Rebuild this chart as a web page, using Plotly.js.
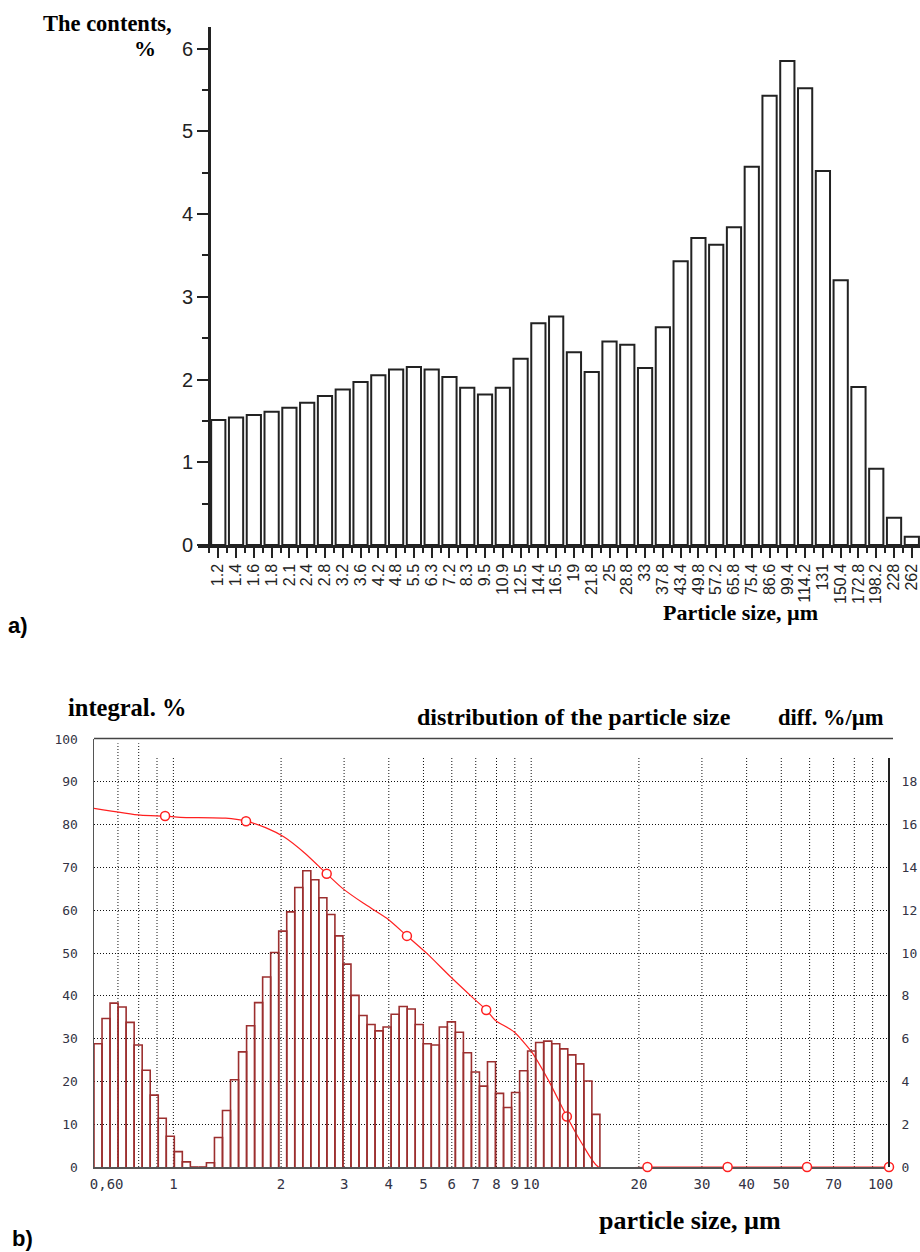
<!DOCTYPE html>
<html>
<head>
<meta charset="utf-8">
<script src="https://cdn.plot.ly/plotly-3.0.1.min.js"></script>
<style>
  html, body { margin: 0; padding: 0; background: #ffffff; }
  #chart { width: 920px; height: 1252px; }
</style>
</head>
<body>
<div id="chart"></div>
<script>
// ---------- (a) particle size histogram ----------
const sizeLabelsA = ['1.2','1.4','1.6','1.8','2.1','2.4','2.8','3.2','3.6','4.2','4.8','5.5','6.3','7.2','8.3','9.5','10.9','12.5','14.4','16.5','19','21.8','25','28.8','33','37.8','43.4','49.8','57.2','65.8','75.4','86.6','99.4','114.2','131','150.4','172.8','198.2','228','262'];
const contentA = [1.51,1.54,1.57,1.61,1.66,1.72,1.80,1.88,1.97,2.05,2.12,2.15,2.12,2.03,1.90,1.82,1.90,2.25,2.68,2.76,2.33,2.09,2.46,2.42,2.14,2.63,3.43,3.71,3.63,3.84,4.57,5.43,5.85,5.52,4.52,3.20,1.91,0.92,0.33,0.10];
const yTicksA = [0,1,2,3,4,5,6];

// ---------- (b) laser diffraction distribution ----------
// bin edges (µm), equal steps on the log scale
const binEdgesB = [0.6000,0.6318,0.6653,0.7006,0.7378,0.7769,0.8181,0.8615,0.9072,0.9553,
  1.0060,1.0593,1.1155,1.1747,1.2370,1.3026,1.3717,1.4444,1.5210,1.6017,
  1.6866,1.7761,1.8703,1.9695,2.0739,2.1839,2.2997,2.4217,2.5501,2.6853,
  2.8277,2.9777,3.1356,3.3019,3.4770,3.6614,3.8556,4.0601,4.2754,4.5021,
  4.7409,4.9923,5.2571,5.5359,5.8295,6.1386,6.4642,6.8070,7.1680,7.5481,
  7.9484,8.3700,8.8139,9.2813,9.7735,10.292,10.838,11.413,12.018,12.655,
  13.327,14.034,14.778,15.562];
// differential distribution, %/µm (right axis)
const diffB = [5.76,6.94,7.66,7.48,6.76,5.70,4.52,3.36,2.28,1.44,
  0.72,0.24,0,0,0.20,1.38,2.64,4.08,5.38,6.60,
  7.68,8.88,10.02,11.02,11.92,13.06,13.84,13.42,12.58,11.80,
  10.80,9.48,8.02,7.08,6.66,6.36,6.54,7.14,7.50,7.38,
  6.66,5.76,5.70,6.54,6.78,6.30,5.34,4.44,3.78,4.92,
  3.44,2.78,3.48,4.50,5.42,5.82,5.88,5.76,5.52,5.24,
  4.82,4.02,2.46];
// integral curve, % (left axis)
const integralX = [0.6,0.809,0.948,1.046,1.40,1.596,1.81,2.04,2.34,2.682,2.97,3.40,3.95,4.495,5.11,5.94,6.9,7.487,7.93,8.95,10.05,11.17,12.58,13.86,15.42,21.13,35.4,59.0,100];
const integralY = [83.8,82.2,82.0,81.7,81.5,80.8,79.3,77.1,73.2,68.5,65.1,61.6,58.1,54.0,49.9,44.5,39.4,36.7,34.3,31.6,26.8,20.3,11.8,5.5,0,0,0,0,0];
const markerX = [0.948,1.596,2.682,4.495,7.487,12.58,21.13,35.4,59.0,100];
const markerY = [82.0,80.8,68.5,54.0,36.7,11.8,0,0,0,0];
const xTickValsB = [0.6,1,2,3,4,5,6,7,8,9,10,20,30,40,50,70,100];
const xTickTextB = ['\u00a0\u00a0\u00a00,60','1','2','3','4','5','6','7','8','9','10','20','30','40','50','70','100\u00a0\u00a0'];
const gridXB = [0.7,0.8,0.9,1,2,3,4,5,6,7,8,9,10,20,30,40,50,60,70,80,90];
const leftTicksB = [0,10,20,30,40,50,60,70,80,90,100];
const rightTicksB = [0,2,4,6,8,10,12,14,16,18];

// ---------- geometry helpers ----------
const W = 920, H = 1252;
const px = v => v / W;
const py = v => 1 - v / H;

// build histogram outlines from edges + heights
const barX = [], barY = [];
diffB.forEach((h, i) => {
  barX.push(binEdgesB[i], binEdgesB[i], binEdgesB[i+1], binEdgesB[i+1], null);
  barY.push(0, h, h, 0, null);
});
// vertical dotted grid lines
const gX = [], gY = [];
gridXB.forEach(g => {
  gX.push(g, g, null);
  gY.push(0, (g < 0.85 ? 99 : 95.8), null);
});

const serif = 'Liberation Serif, Times New Roman, serif';
const sans = 'Liberation Sans, Arial, sans-serif';
const mono = 'DejaVu Sans Mono, monospace';
const dotted = '1px,2px';

const traces = [
  {
    type: 'bar', x: sizeLabelsA.map((_, i) => i), y: contentA,
    xaxis: 'x', yaxis: 'y', width: 0.8,
    marker: { color: '#ffffff', line: { color: '#222222', width: 2 } },
    hoverinfo: 'skip', showlegend: false
  },
  {
    type: 'scatter', mode: 'lines', x: gX, y: gY, xaxis: 'x2', yaxis: 'y2',
    line: { color: '#111111', width: 1, dash: dotted },
    hoverinfo: 'skip', showlegend: false
  },
  {
    type: 'scatter', mode: 'lines', x: barX, y: barY, xaxis: 'x2', yaxis: 'y3',
    line: { color: '#9c2f2f', width: 1.6 },
    hoverinfo: 'skip', showlegend: false
  },
  {
    type: 'scatter', mode: 'lines', x: integralX, y: integralY, xaxis: 'x2', yaxis: 'y2',
    line: { color: '#ff2020', width: 1.2, shape: 'spline', smoothing: 0.6 },
    cliponaxis: false, hoverinfo: 'skip', showlegend: false
  },
  {
    type: 'scatter', mode: 'markers', x: markerX, y: markerY, xaxis: 'x2', yaxis: 'y2',
    marker: { symbol: 'circle', size: 9, color: '#ffffff', line: { color: '#ff2020', width: 1.5 } },
    cliponaxis: false, hoverinfo: 'skip', showlegend: false
  }
];

const ann = (text, x, y, size, family, extra) => Object.assign({
  text: text, xref: 'paper', yref: 'paper', x: px(x), y: py(y),
  xanchor: 'center', yanchor: 'middle', showarrow: false,
  font: { family: family, size: size, color: '#000000' }
}, extra || {});

const layout = {
  width: W, height: H,
  margin: { l: 0, r: 0, t: 0, b: 0, pad: 0 },
  paper_bgcolor: '#ffffff', plot_bgcolor: 'rgba(0,0,0,0)',
  showlegend: false,
  xaxis: {
    domain: [px(198), 1], range: [-1.14, 39.46], anchor: 'y',
    tickmode: 'array', tickvals: sizeLabelsA.map((_, i) => i), ticktext: sizeLabelsA,
    tickangle: -90, ticks: 'outside', ticklen: 10, tickwidth: 2, tickcolor: '#222222',
    ticklabeloverflow: 'allow',
    minor: { tickmode: 'linear', tick0: 0.5, dtick: 1, ticks: 'outside', ticklen: 5, tickwidth: 2, tickcolor: '#222222', showgrid: false },
    showline: true, linewidth: 2.5, linecolor: '#222222',
    showgrid: false, zeroline: false, fixedrange: true,
    tickfont: { family: sans, size: 16, color: '#222222' }
  },
  yaxis: {
    domain: [py(545), py(27)], range: [0, 6.26], anchor: 'free', position: px(209),
    tickmode: 'array', tickvals: yTicksA,
    ticks: 'outside', ticklen: 11, tickwidth: 2, tickcolor: '#222222',
    minor: { tickmode: 'linear', tick0: 0, dtick: 0.5, ticks: 'outside', ticklen: 6, tickwidth: 2, tickcolor: '#222222', showgrid: false },
    showline: true, linewidth: 2.5, linecolor: '#222222',
    showgrid: false, zeroline: false, fixedrange: true,
    tickfont: { family: sans, size: 20, color: '#222222' }
  },
  xaxis2: {
    type: 'log', domain: [px(94), px(889)], range: [Math.log10(0.6), 2], anchor: 'y2',
    tickmode: 'array', tickvals: xTickValsB, ticktext: xTickTextB,
    ticks: 'outside', ticklen: 3, tickcolor: 'rgba(0,0,0,0)',
    showline: true, linewidth: 2, linecolor: '#555555', layer: 'below traces',
    showgrid: false, zeroline: false, fixedrange: true,
    tickfont: { family: mono, size: 14, color: '#333344' }
  },
  yaxis2: {
    domain: [py(1167), py(739)], range: [0, 100], anchor: 'x2',
    tickmode: 'array', tickvals: leftTicksB,
    ticks: 'outside', ticklen: 12, tickcolor: 'rgba(0,0,0,0)',
    showline: true, linewidth: 1.5, linecolor: '#555555',
    showgrid: true, gridcolor: '#111111', gridwidth: 1, griddash: dotted,
    zeroline: false, fixedrange: true,
    tickfont: { family: mono, size: 13, color: '#333344' }
  },
  yaxis3: {
    overlaying: 'y2', side: 'right', anchor: 'x2', range: [0, 20],
    tickmode: 'array', tickvals: rightTicksB,
    ticks: 'outside', ticklen: 9, tickcolor: 'rgba(0,0,0,0)',
    showline: false, showgrid: false, zeroline: false, fixedrange: true,
    tickfont: { family: mono, size: 13, color: '#333344' }
  },
  shapes: [
    // top frame line of panel b
    { type: 'line', xref: 'paper', yref: 'paper', x0: px(94), x1: px(893), y0: py(738.5), y1: py(738.5),
      line: { color: '#444444', width: 1.5 } },
    // right frame line of panel b
    { type: 'line', xref: 'paper', yref: 'paper', x0: px(889), x1: px(889), y0: py(758), y1: py(1167),
      line: { color: '#222222', width: 2 } }
  ],
  annotations: [
    ann('<b>The contents,</b>', 107, 23, 22.5, serif),
    ann('<b>%</b>', 145, 48, 22, serif),
    ann('<b>Particle size, µm</b>', 740, 612, 22, serif),
    ann('<b>a)</b>', 18, 625, 22, sans),
    ann('<b>integral. %</b>', 127, 707, 24.5, serif),
    ann('<b>distribution of the particle size</b>', 574, 717, 24, serif),
    ann('<b>diff. %/µm</b>', 831, 717, 22.5, serif),
    ann('<b>particle size, µm</b>', 690, 1220, 26, serif),
    ann('<b>b)</b>', 22, 1238, 22, sans)
  ]
};

Plotly.newPlot('chart', traces, layout, { staticPlot: true, displayModeBar: false });
</script>
</body>
</html>
